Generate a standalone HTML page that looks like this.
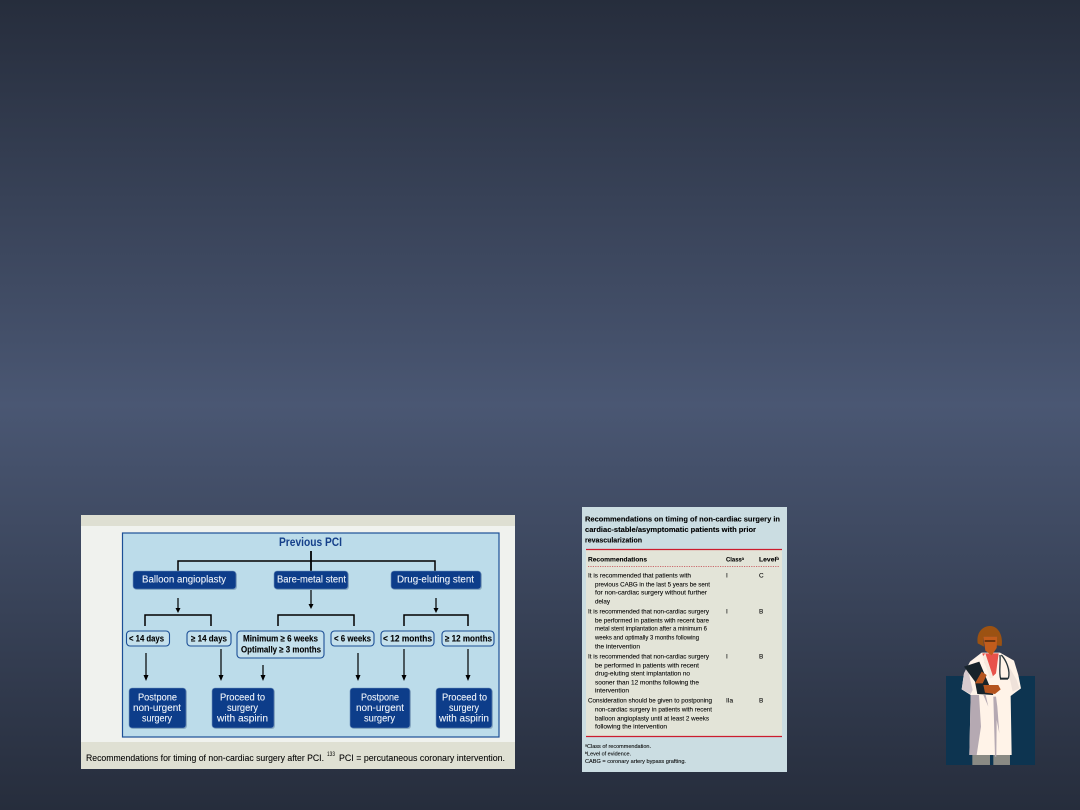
<!DOCTYPE html>
<html><head><meta charset="utf-8"><style>
html,body{margin:0;padding:0;width:1080px;height:810px;overflow:hidden;background:#262d3c}
svg{display:block}
text{font-family:"Liberation Sans",sans-serif}
.b{fill:#eef4fa;font-size:10px;stroke:#eef4fa;stroke-width:.1}
.c{font-weight:bold;fill:#000;font-size:9px;stroke:#000;stroke-width:.1}
.t{fill:#000;font-size:6.4px;stroke:#000;stroke-width:.08}
.tb{fill:#000;font-size:7.4px;font-weight:bold;stroke:#000;stroke-width:.1}
.w{fill:#c4e0ec;stroke:#1d4f96;stroke-width:1.1}
.n{fill:#0f3c8a;stroke:#6f93bd;stroke-width:.6}
.sh{fill:#8fb0c4}
.l{stroke:#000;stroke-width:1.5;fill:none}
.cap{fill:#000;font-size:9px;stroke:#000;stroke-width:.06}
</style></head><body>
<svg width="1080" height="810" viewBox="0 0 1080 810" xmlns="http://www.w3.org/2000/svg">
<defs>
<linearGradient id="bg" x1="0" y1="0" x2="0" y2="1">
<stop offset="0" stop-color="#262d3c"/><stop offset=".5" stop-color="#4a5773"/><stop offset="1" stop-color="#262d3c"/>
</linearGradient>
<filter id="s" x="-2%" y="-2%" width="104%" height="104%"><feGaussianBlur stdDeviation=".28"/></filter>
</defs>
<rect width="1080" height="810" fill="url(#bg)"/>

<g filter="url(#s)">
<rect x="81" y="515" width="434" height="254" fill="#f0f2ee"/>
<rect x="81" y="515" width="434" height="11" fill="#dedfd2"/>
<rect x="81" y="742" width="434" height="27" fill="#dfe0d3"/>
<rect x="122.500" y="533" width="376.500" height="204" fill="#bcdcea" stroke="#1d4f96" stroke-width="1.2"/>
<text x="279" y="546" font-size="11.500" font-weight="bold" fill="#123f8a" textLength="63" lengthAdjust="spacingAndGlyphs">Previous PCI</text>

<path class="l" d="M178 571V561H435V571"/>
<path d="M311 551V571" stroke="#000" stroke-width="1.8"/>
<path class="l" d="M145 626V615H211V626M278 626V615H354V626M404 626V615H468V626"/>
<g stroke="#000" stroke-width="1.2" fill="none">
<path d="M178 598V610M311 589V606M436 598V610M146 653V678M221 649V678M263 665V678M358 653V678M404 649V678M468 649V678"/>
</g>
<g fill="#000">
<path d="M175.500 608h5l-2.500 5zM308.500 604h5l-2.500 5zM433.500 608h5l-2.500 5zM143.500 675h5l-2.500 6zM218.500 675h5l-2.500 6zM260.500 675h5l-2.500 6zM355.500 675h5l-2.500 6zM401.500 675h5l-2.500 6zM465.500 675h5l-2.500 6z"/>
</g>

<rect class="sh" x="134" y="572" width="103" height="18" rx="3"/>
<rect class="sh" x="275" y="572" width="74" height="18" rx="3"/>
<rect class="sh" x="392" y="572" width="90" height="18" rx="3"/>
<rect class="n" x="133" y="571" width="103" height="18" rx="3"/>
<rect class="n" x="274" y="571" width="74" height="18" rx="3"/>
<rect class="n" x="391" y="571" width="90" height="18" rx="3"/>
<text class="b" x="142" y="582.500" textLength="84" lengthAdjust="spacingAndGlyphs">Balloon angioplasty</text>
<text class="b" x="277" y="582.500" textLength="69" lengthAdjust="spacingAndGlyphs">Bare-metal stent</text>
<text class="b" x="397" y="582.500" textLength="77" lengthAdjust="spacingAndGlyphs">Drug-eluting stent</text>

<rect class="w" x="126.500" y="631" width="43" height="15" rx="3.500"/>
<rect class="w" x="187" y="631" width="44" height="15" rx="3.500"/>
<rect class="w" x="237" y="631" width="87" height="27" rx="3.500"/>
<rect class="w" x="331" y="631" width="43" height="15" rx="3.500"/>
<rect class="w" x="381" y="631" width="53" height="15" rx="3.500"/>
<rect class="w" x="442" y="631" width="52" height="15" rx="3.500"/>
<text class="c" x="129" y="641.500" textLength="35" lengthAdjust="spacingAndGlyphs">&lt; 14 days</text>
<text class="c" x="191" y="641.500" textLength="36" lengthAdjust="spacingAndGlyphs">≥ 14 days</text>
<text class="c" x="243" y="641.500" textLength="75" lengthAdjust="spacingAndGlyphs">Minimum ≥ 6 weeks</text>
<text class="c" x="241" y="652.500" textLength="80" lengthAdjust="spacingAndGlyphs">Optimally ≥ 3 months</text>
<text class="c" x="334" y="641.500" textLength="37" lengthAdjust="spacingAndGlyphs">&lt; 6 weeks</text>
<text class="c" x="383" y="641.500" textLength="49" lengthAdjust="spacingAndGlyphs">&lt; 12 months</text>
<text class="c" x="445" y="641.500" textLength="47" lengthAdjust="spacingAndGlyphs">≥ 12 months</text>

<rect class="sh" x="130" y="689" width="57" height="40" rx="3"/>
<rect class="sh" x="213" y="689" width="62" height="40" rx="3"/>
<rect class="sh" x="351" y="689" width="60" height="40" rx="3"/>
<rect class="sh" x="437" y="689" width="56" height="40" rx="3"/>
<rect class="n" x="129" y="688" width="57" height="40" rx="3"/>
<rect class="n" x="212" y="688" width="62" height="40" rx="3"/>
<rect class="n" x="350" y="688" width="60" height="40" rx="3"/>
<rect class="n" x="436" y="688" width="56" height="40" rx="3"/>
<text class="b" x="138" y="700.500" textLength="39" lengthAdjust="spacingAndGlyphs">Postpone</text>
<text class="b" x="133" y="711" textLength="48" lengthAdjust="spacingAndGlyphs">non-urgent</text>
<text class="b" x="142" y="721.500" textLength="30" lengthAdjust="spacingAndGlyphs">surgery</text>
<text class="b" x="220" y="700.500" textLength="45" lengthAdjust="spacingAndGlyphs">Proceed to</text>
<text class="b" x="227" y="711" textLength="31" lengthAdjust="spacingAndGlyphs">surgery</text>
<text class="b" x="217" y="721.500" textLength="51" lengthAdjust="spacingAndGlyphs">with aspirin</text>
<text class="b" x="361" y="700.500" textLength="38" lengthAdjust="spacingAndGlyphs">Postpone</text>
<text class="b" x="356" y="711" textLength="48" lengthAdjust="spacingAndGlyphs">non-urgent</text>
<text class="b" x="364" y="721.500" textLength="31" lengthAdjust="spacingAndGlyphs">surgery</text>
<text class="b" x="442" y="700.500" textLength="45" lengthAdjust="spacingAndGlyphs">Proceed to</text>
<text class="b" x="449" y="711" textLength="30" lengthAdjust="spacingAndGlyphs">surgery</text>
<text class="b" x="439" y="721.500" textLength="50" lengthAdjust="spacingAndGlyphs">with aspirin</text>
<text class="cap" x="86" y="761" textLength="238" lengthAdjust="spacingAndGlyphs">Recommendations for timing of non-cardiac surgery after PCI.</text>
<text x="327" y="756" font-size="6" fill="#000" textLength="8" lengthAdjust="spacingAndGlyphs">133</text>
<text class="cap" x="339" y="761" textLength="166" lengthAdjust="spacingAndGlyphs">PCI = percutaneous coronary intervention.</text>
</g>

<g filter="url(#s)">
<rect x="582" y="507" width="205" height="265" fill="#cbdde2"/>
<rect x="586" y="550" width="196" height="186" fill="#e3e4d8"/>
<path d="M586 549.500H782M586 736.500H782" stroke="#cc1f2d" stroke-width="1.3"/>
<path d="M588 566.500H780" stroke="#c2404a" stroke-width=".8" stroke-dasharray="1.200 1.200"/>
<text class="tb" x="585" y="521.500" textLength="195" lengthAdjust="spacingAndGlyphs">Recommendations on timing of non-cardiac surgery in</text>
<text class="tb" x="585" y="532" textLength="171" lengthAdjust="spacingAndGlyphs">cardiac-stable/asymptomatic patients with prior</text>
<text class="tb" x="585" y="542.500" textLength="57" lengthAdjust="spacingAndGlyphs">revascularization</text>
<text class="t" style="font-weight:bold" x="588" y="561.500" textLength="59" lengthAdjust="spacingAndGlyphs">Recommendations</text>
<text class="t" style="font-weight:bold" x="726" y="561.500" textLength="18" lengthAdjust="spacingAndGlyphs">Classᵃ</text>
<text class="t" style="font-weight:bold" x="759" y="561.500" textLength="20" lengthAdjust="spacingAndGlyphs">Levelᵇ</text>

<text class="t" x="588" y="577.500" textLength="103" lengthAdjust="spacingAndGlyphs">It is recommended that patients with</text>
<text class="t" x="595" y="586.500" textLength="115" lengthAdjust="spacingAndGlyphs">previous CABG in the last 5 years be sent</text>
<text class="t" x="595" y="594.500" textLength="112" lengthAdjust="spacingAndGlyphs">for non-cardiac surgery without further</text>
<text class="t" x="595" y="603.500" textLength="15" lengthAdjust="spacingAndGlyphs">delay</text>
<text class="t" x="726" y="577.500">I</text><text class="t" x="759" y="577.500">C</text>

<text class="t" x="588" y="613.500" textLength="121" lengthAdjust="spacingAndGlyphs">It is recommended that non-cardiac surgery</text>
<text class="t" x="595" y="622.500" textLength="114" lengthAdjust="spacingAndGlyphs">be performed in patients with recent bare</text>
<text class="t" x="595" y="630.500" textLength="112" lengthAdjust="spacingAndGlyphs">metal stent implantation after a minimum 6</text>
<text class="t" x="595" y="639.500" textLength="104" lengthAdjust="spacingAndGlyphs">weeks and optimally 3 months following</text>
<text class="t" x="595" y="648.500" textLength="45" lengthAdjust="spacingAndGlyphs">the intervention</text>
<text class="t" x="726" y="613.500">I</text><text class="t" x="759" y="613.500">B</text>

<text class="t" x="588" y="658.500" textLength="121" lengthAdjust="spacingAndGlyphs">It is recommended that non-cardiac surgery</text>
<text class="t" x="595" y="667.500" textLength="104" lengthAdjust="spacingAndGlyphs">be performed in patients with recent</text>
<text class="t" x="595" y="675.500" textLength="95" lengthAdjust="spacingAndGlyphs">drug-eluting stent implantation no</text>
<text class="t" x="595" y="684.500" textLength="104" lengthAdjust="spacingAndGlyphs">sooner than 12 months following the</text>
<text class="t" x="595" y="692.500" textLength="34" lengthAdjust="spacingAndGlyphs">intervention</text>
<text class="t" x="726" y="658.500">I</text><text class="t" x="759" y="658.500">B</text>

<text class="t" x="588" y="702.500" textLength="124" lengthAdjust="spacingAndGlyphs">Consideration should be given to postponing</text>
<text class="t" x="595" y="711.500" textLength="117" lengthAdjust="spacingAndGlyphs">non-cardiac surgery in patients with recent</text>
<text class="t" x="595" y="720.500" textLength="114" lengthAdjust="spacingAndGlyphs">balloon angioplasty until at least 2 weeks</text>
<text class="t" x="595" y="728.500" textLength="72" lengthAdjust="spacingAndGlyphs">following the intervention</text>
<text class="t" x="726" y="702.500">IIa</text><text class="t" x="759" y="702.500">B</text>

<text class="t" style="font-size:5.800px" x="585" y="748" textLength="66" lengthAdjust="spacingAndGlyphs">ᵃClass of recommendation.</text>
<text class="t" style="font-size:5.800px" x="585" y="755.500" textLength="46" lengthAdjust="spacingAndGlyphs">ᵇLevel of evidence.</text>
<text class="t" style="font-size:5.800px" x="585" y="763" textLength="101" lengthAdjust="spacingAndGlyphs">CABG = coronary artery bypass grafting.</text>
</g>

<g transform="translate(940 620) scale(.3333)">
<rect x="18" y="168" width="267" height="267" fill="#0d3450"/>
<rect x="97" y="405" width="53" height="30" fill="#8a8a84"/>
<rect x="160" y="405" width="50" height="30" fill="#8a8a84"/>
<path d="M125 98L180 98 222 122 235 165 243 205 212 228 215 405 88 405 92 225 65 208 72 160 90 125Z" fill="#fff3e8"/>
<path d="M92 225L117 225 123 320 110 405 88 405ZM130 225L145 260 137 225ZM160 230L165 410 169 410 170 300 178 340 172 260 168 230Z" fill="#b5a9b2"/>
<path d="M65 208L72 160 82 140 98 210 92 222Z" fill="#d7cace"/>
<path d="M196 120L230 180 238 205 218 215 206 160Z" fill="#efe2da"/>
<path d="M127 100L176 100 168 160 155 172 135 130Z" fill="#e8524a"/>
<path d="M136 100L160 172 150 175 128 110Z" fill="#f6e9dd"/>
<path d="M113 70C108 35 130 18 150 18 172 18 190 42 185 78L170 76 172 50 130 50 132 80Z" fill="#9c5212"/>
<path d="M130 50L172 50 170 84 155 106 136 92Z" fill="#c25c1c"/>
<path d="M134 60L166 60 166 66 134 66Z" fill="#6a3410"/>
<path d="M72 140L118 125 160 225 112 222 105 185Z" fill="#17232a"/>
<path d="M105 190L125 155 140 165 128 190ZM130 195L175 195 182 208 165 222 135 218Z" fill="#b5541e"/>
<path d="M180 105C182 130 176 160 182 176M205 176C212 150 198 120 184 105" stroke="#26343a" stroke-width="4" fill="none"/>
<rect x="180" y="173" width="24" height="6" fill="#1e2a30"/>
</g>
</svg>
</body></html>
